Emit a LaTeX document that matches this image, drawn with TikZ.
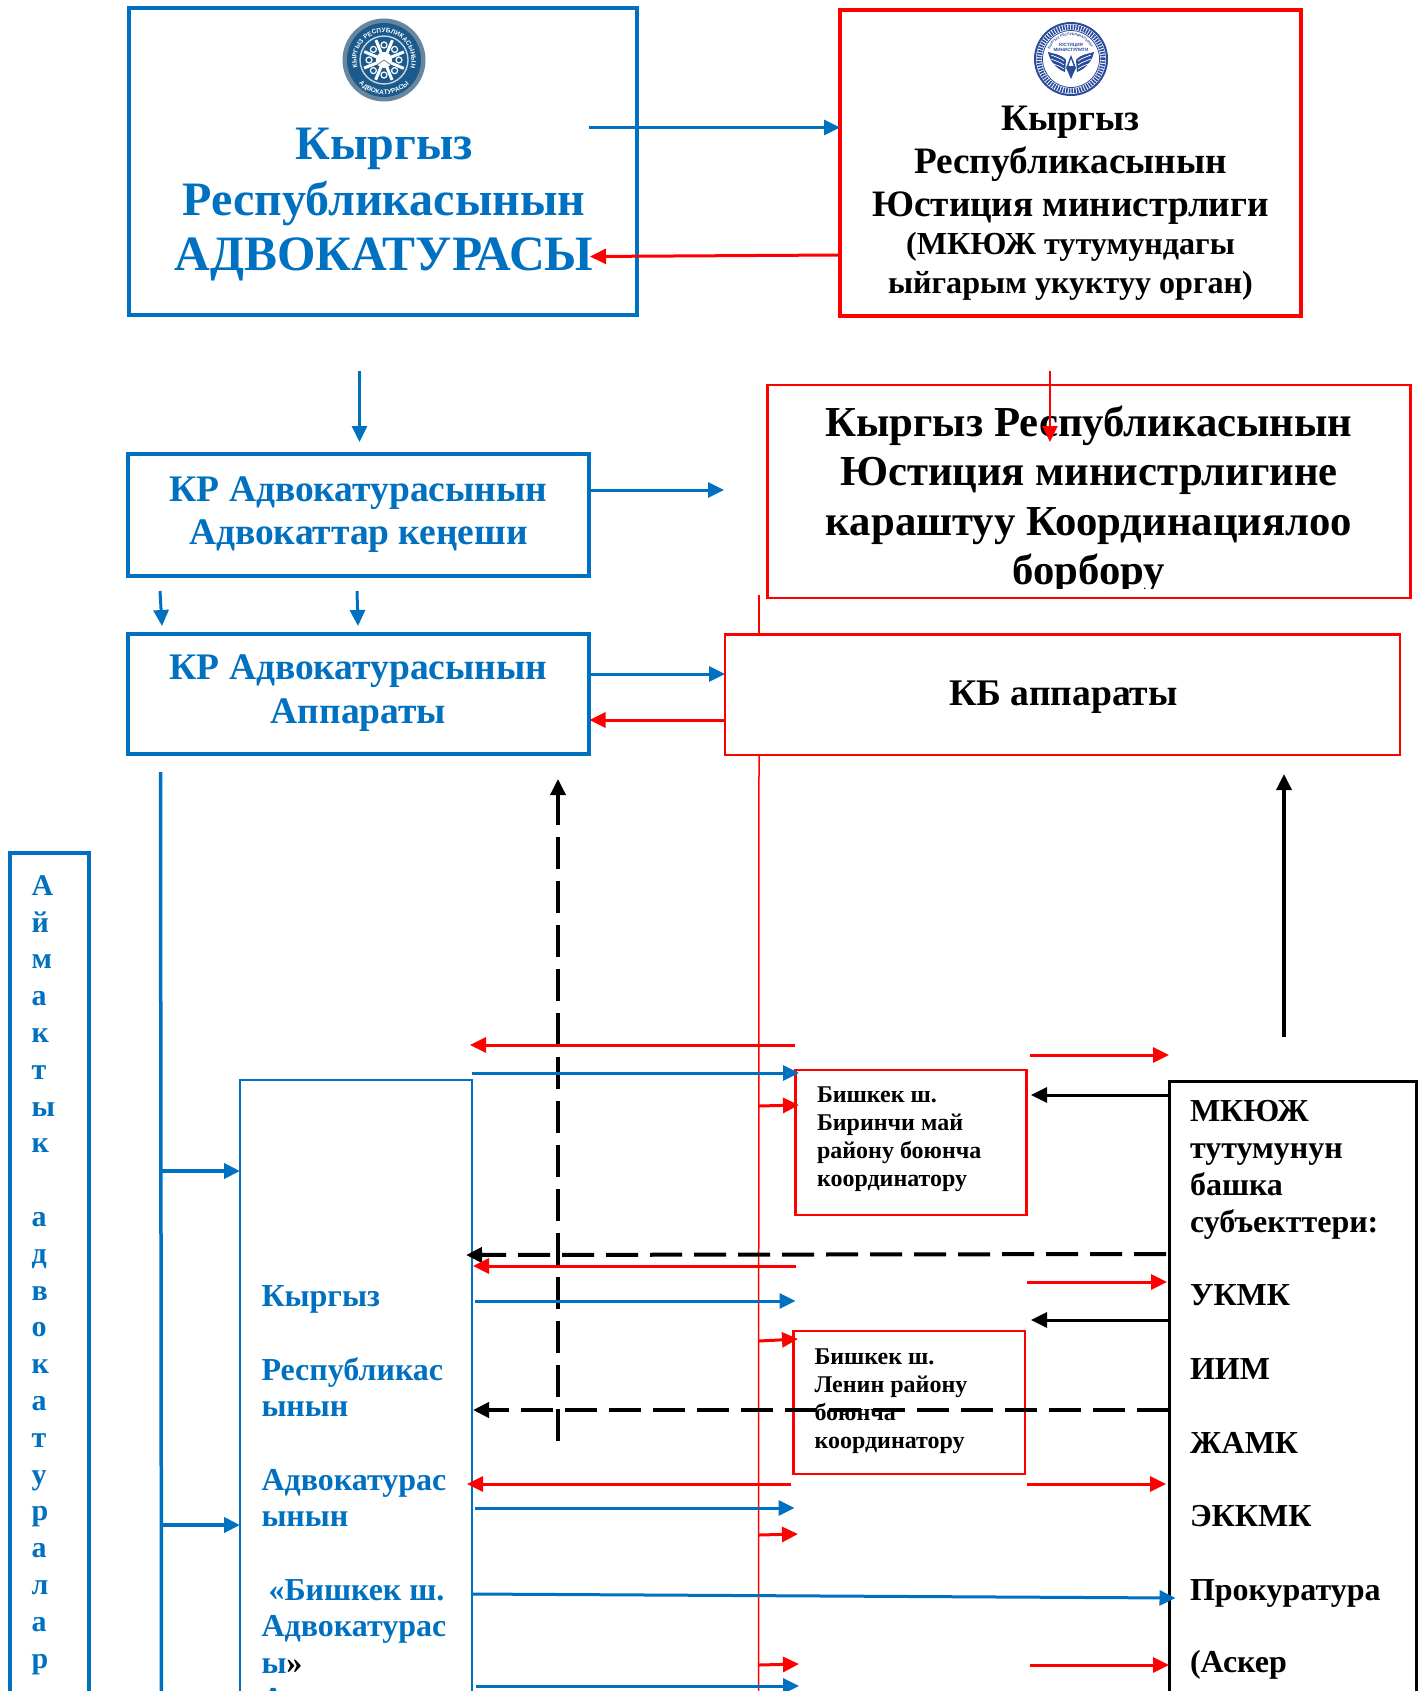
\documentclass[tikz,border=0pt]{standalone}
\usepackage{fontspec}
\setmainfont{Liberation Serif}
\newfontfamily\logofont{Liberation Sans}
\usetikzlibrary{arrows.meta,decorations.text,calc}
\definecolor{bl}{HTML}{0070C0}
\definecolor{rd}{HTML}{FF0000}
\definecolor{lga}{HTML}{1A5A8C}
\definecolor{lgb}{HTML}{2A4B9B}
\tikzset{
 tipA/.tip={Triangle[length=16pt,width=15pt]},
 ba/.style={draw=bl,line width=3pt,-{tipA},color=bl},
 bat/.style={draw=bl,line width=4pt,-{tipA},color=bl},
 ra/.style={draw=rd,line width=3pt,-{tipA},color=rd},
 rat/.style={draw=rd,line width=2pt,-{tipA},color=rd},
 ka/.style={draw=black,line width=3pt,-{tipA},color=black},
 kas/.style={draw=black,line width=3.5pt,-{tipA},color=black},
 kd/.style={draw=black,line width=4pt,dash pattern=on 32pt off 12pt,-{tipA},color=black},
 kdv/.style={draw=black,line width=3.5pt,dash pattern=on 32pt off 12pt,-{tipA},color=black},
 bbox/.style={draw=bl,line width=4pt,inner sep=0pt,outer sep=0pt},
 rbox/.style={draw=rd,line width=4pt,inner sep=0pt,outer sep=0pt},
 rthin/.style={draw=rd,line width=2.8pt,inner sep=0pt,outer sep=0pt},
 bthin/.style={draw=bl,line width=2.8pt,inner sep=0pt,outer sep=0pt},
 kbox/.style={draw=black,line width=3pt,inner sep=0pt,outer sep=0pt},
 tx/.style={inner sep=0pt,outer sep=0pt,font=\bfseries},
}
\newcommand{\bx}[6]{\node[#2,minimum width={#5-#3},minimum height={#6-#4}] (#1) at ({(#3+#5)/2},{(#4+#6)/2}) {};}
\newcommand{\cn}[4]{\coordinate (#1s) at (#3); \coordinate (#1e) at (#4); \draw[#2] (#1s) -- (#1e);}
\newcommand{\fs}[2]{\fontsize{#1}{#2}\selectfont}
\begin{document}
\begin{tikzpicture}[x=1pt,y=-1pt]
\useasboundingbox (0,0) rectangle (1422,1691);
\clip (0,0) rectangle (1422,1691);
\fill[white] (0,0) rectangle (1422,1691);

% boxes
\bx{topblue}{bbox}{129}{8}{637}{315}
\bx{topred}{rbox}{840}{10}{1301}{316}
\bx{redcenter}{rthin}{767.5}{385}{1410.5}{598}
\bx{council}{bbox}{128}{454}{589}{576}
\bx{apparat}{bbox}{128}{633.5}{589}{754}
\bx{kbapp}{rthin}{725}{634.5}{1400}{755}
\bx{regional}{bbox}{10}{853}{89}{1730}
\bx{bar}{bthin}{240}{1080}{472}{1730}
\bx{coord1}{rthin}{795.5}{1070}{1026.5}{1215}
\bx{coord2}{rthin}{793.5}{1331}{1025}{1474}
\bx{others}{kbox}{1169}{1081}{1416}{1730}

% logo 1
\begin{scope}[shift={(384,60)},x=1pt,y=1pt]
\fill[color=lga!60!gray!80] (0,0) circle (41.5);
\fill[color=lga] (0,0) circle (37);
\draw[white!75!lga,line width=1.4pt,fill=lga] (0,0) circle (24);
\foreach \a in {0,45,...,315}{
 \draw[white,line width=3pt] (0,0) -- (\a+22:21.5);
 \draw[white,fill=lga,line width=1.2pt] (\a:15) circle (3);
}
\fill[white] (0,0) circle (8);
\draw[gray,line width=.8pt] (-7,-5) -- (0,0) -- (7,-5);
\path[postaction={decorate,decoration={text along path,text align=center,
 text={|\logofont\bfseries\fs{6.5}{7}\color{white}|КЫРГЫЗ РЕСПУБЛИКАСЫНЫН}}}]
 (205:27.5) arc[start angle=205,end angle=-25,radius=27.5];
\path[postaction={decorate,decoration={text along path,text align=center,
 text={|\logofont\bfseries\fs{6.5}{7}\color{white}|АДВОКАТУРАСЫ}}}]
 (210:34.5) arc[start angle=210,end angle=330,radius=34.5];
\end{scope}

% logo 2
\begin{scope}[shift={(1071,59)},x=1pt,y=1pt]
\draw[color=lgb,line width=2pt] (0,0) circle (36);
\draw[color=lgb,line width=5pt,dash pattern=on 1.6pt off 1.1pt] (0,0) circle (32);
\draw[color=lgb,line width=.8pt] (0,0) circle (28.5);
\path[postaction={decorate,decoration={text along path,text align=center,
 text={|\logofont\bfseries\fs{3.4}{4}\color{lgb}|КЫРГЫЗ РЕСПУБЛИКАСЫНЫН}}}]
 (150:23.5) arc[start angle=150,end angle=30,radius=23.5];
\node[inner sep=0pt,align=center,color=lgb,font=\logofont\bfseries\fs{4.6}{5.4}] (lg2txt) at (0,11.5) {ЮСТИЦИЯ\\МИНИСТРЛИГИ};
\foreach \s in {-1,1}{
 \fill[color=lgb,xscale=\s] (5,-1) .. controls (10,5) and (17,5) .. (23,7) .. controls (21,-3) and (14,-10) .. (6,-13) -- cycle;
 \foreach \q in {0,4,8}{
  \draw[white,line width=.7pt,xscale=\s] (7,-2-\q) .. controls (11,1-\q) and (15,2-\q) .. (20,4-\q);
 }
}
\fill[color=lgb] (0,4) -- (-5,-9) -- (-3,-13) -- (0,-20) -- (3,-13) -- (5,-9) -- cycle;
\fill[white] (0,0) -- (-2.5,-7) -- (2.5,-7) -- cycle;
\end{scope}

% texts
\node[tx,color=bl,align=center,anchor=base,font=\bfseries\fs{48}{55.5}] (t1) at (384,270.5) {Кыргыз\\Республикасынын\\{\fs{49.4}{55.5}АДВОКАТУРАСЫ}};
\node[tx,anchor=base,align=center,font=\bfseries\fs{37.3}{43.2}] (t2a) at (1070.5,216.5) {Кыргыз\\Республикасынын\\Юстиция министрлиги};
\node[tx,anchor=base,align=center,font=\bfseries\fs{32.1}{39}] (t2b) at (1070.5,293) {(МКЮЖ тутумундагы\\ыйгарым укуктуу орган)};
\begin{scope}
\clip (770,386) rectangle (1409,588);
\node[tx,anchor=base,align=center,font=\bfseries\fs{42.7}{49.3}] (t3) at (1089,584.5) {Кыргыз Республикасынын\\Юстиция министрлигине\\караштуу Координациялоо\\борбору};
\end{scope}
\node[tx,color=bl,anchor=base,align=center,font=\bfseries\fs{37.5}{43}] (t4) at (358.5,544.5) {КР Адвокатурасынын\\Адвокаттар кеңеши};
\node[tx,color=bl,anchor=base,align=center,font=\bfseries\fs{37.5}{44}] (t5) at (358.5,723.5) {КР Адвокатурасынын\\Аппараты};
\node[tx,anchor=base,font=\bfseries\fs{37.6}{40}] (t6) at (1063.5,705) {КБ аппараты};
\node[tx,anchor=base west,align=left,font=\bfseries\fs{24}{28}] (t7) at (817,1186.5) {Бишкек ш.\\Биринчи май\\району боюнча\\координатору};
\node[tx,anchor=base west,align=left,font=\bfseries\fs{24}{28}] (t8) at (814.5,1448) {Бишкек ш.\\Ленин району\\боюнча\\координатору};
\node[tx,color=bl,anchor=base west,align=left,font=\bfseries\fs{32}{36.5}] (t9) at (261.5,1709.5) {Кыргыз\\[37.5pt]Республикас\\ынын\\[37pt]Адвокатурас\\ынын\\[37pt]\hspace{7pt}«Бишкек ш.\\Адвокатурас\\ы{\color{black}»}\\А};
\node[tx,anchor=base west,align=left,font=\bfseries\fs{32}{37}] (t10) at (1190,1672) {МКЮЖ\\тутумунун\\башка\\субъекттери:\\[36pt]УКМК\\[37pt]ИИМ\\[37pt]ЖАМК\\[36pt]ЭККМК\\[37pt]Прокуратура\\[35pt](Аскер};
\node[tx,color=bl,anchor=base west,align=left,font=\bfseries\fs{30}{36.8}] (t11) at (31.5,1668) {А\\й\\м\\а\\к\\т\\ы\\к\\\ \\а\\д\\в\\о\\к\\а\\т\\у\\р\\а\\л\\а\\р};

% vertical lines
\coordinate (rvs) at (759,595); \coordinate (rve) at (759,636);
\draw[rd,line width=1.5pt] (rvs) -- (rve);
\coordinate (rv2s) at (759,756); \coordinate (rv2e) at (758.5,1700);
\draw[rd,line width=1.5pt] (rv2s) -- (rv2e);
\coordinate (trs) at (160.5,772); \coordinate (tre) at (161.5,1700);
\draw[bl,line width=3.5pt] (trs) -- (tre);

% connectors
\cn{a1}{ba}{589,127.5}{840,127.5}
\cn{a2}{ra}{840,255}{590,256.5}
\cn{a3}{ba}{359.5,371}{359.5,442}
\cn{a4}{rat}{1050,371}{1050,442}
\cn{a5}{ba}{589.5,490}{724,490}
\cn{a6}{ba}{160,591}{162,626}
\cn{a7}{ba}{357,591}{358,626}
\cn{a8}{ba}{589.5,674}{725,674}
\cn{a9}{ra}{725,720}{589.5,720}
\cn{a10}{kdv}{558,1441}{558,779}
\cn{a11}{kas}{1284,1037}{1284,774}
\cn{b1}{bat}{161,1171}{240,1171}
\cn{b2}{bat}{161,1525}{240,1525}
\cn{c1}{ra}{794.5,1045}{470,1045}
\cn{c2}{ba}{472,1073}{799,1073}
\cn{c3}{ra}{1030,1055}{1169,1055}
\cn{c4}{ra}{759,1106}{799,1105}
\cn{c5}{ka}{1169,1095}{1031,1095}
\cn{c6}{kd}{1166,1254}{466,1255}
\cn{c7}{ra}{795.5,1266}{473,1266}
\cn{c8}{ra}{1027,1282}{1167,1282}
\cn{c9}{ba}{475,1301}{795.5,1301}
\cn{c10}{ka}{1169,1320}{1031,1320}
\cn{c11}{ra}{759,1341}{798,1339}
\cn{c12}{kd}{1169,1410}{473,1410}
\cn{c13}{ra}{791,1484}{467,1484}
\cn{c14}{ra}{1027,1484}{1166,1484}
\cn{c15}{ba}{475,1508}{794.5,1508}
\cn{c16}{ra}{759,1535}{798,1534}
\cn{c17}{ba}{472,1594}{1175.5,1598}
\cn{c18}{ra}{759,1665}{799,1664}
\cn{c19}{ra}{1030,1665}{1169,1665}
\cn{c20}{ba}{476,1686}{799,1686}
\cn{c21}{ka}{1169,1699}{1031,1699}
\end{tikzpicture}
\end{document}
